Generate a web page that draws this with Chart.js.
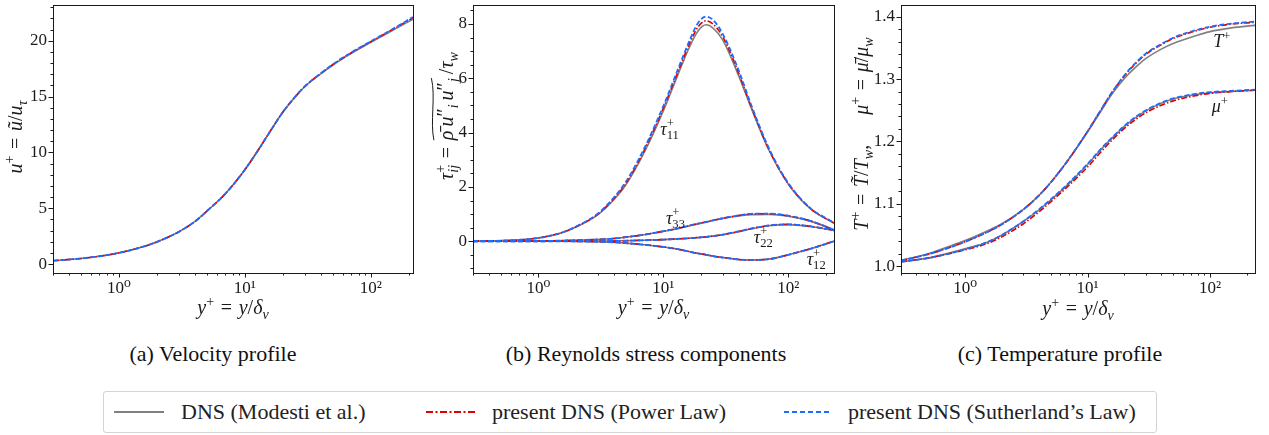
<!DOCTYPE html>
<html>
<head>
<meta charset="utf-8">
<script src="https://cdn.jsdelivr.net/npm/chart.js@4.4.1/dist/chart.umd.min.js"></script>
<style>
  body { margin: 0; background: #fff; width: 1269px; height: 435px; position: relative; overflow: hidden; font-family: "Liberation Serif", "Times New Roman", "DejaVu Serif", serif; }
  .pane { position: absolute; top: 0; }
  .cap { position: absolute; top: 341px; font-size: 22px; color: #111; transform: translateX(-50%); white-space: nowrap; }
  #legend { position: absolute; left: 103px; top: 391px; width: 1052px; height: 40px; border: 1px solid #d4d4d4; border-radius: 3px; }
  .lab { position: absolute; top: 0; height: 40px; line-height: 40px; font-size: 22px; color: #222; white-space: nowrap; }
  #legend svg { position: absolute; top: 18px; }
</style>
</head>
<body>
<canvas id="velo" class="pane" style="left:0px" width="420" height="320"></canvas>
<canvas id="stress" class="pane" style="left:420px" width="420" height="320"></canvas>
<canvas id="temp" class="pane" style="left:840px" width="429" height="320"></canvas>

<div class="cap" style="left:213px">(a) Velocity profile</div>
<div class="cap" style="left:646px">(b) Reynolds stress components</div>
<div class="cap" style="left:1060px">(c) Temperature profile</div>

<div id="legend">
  <svg style="left:10px" width="50" height="4"><line x1="0" y1="2" x2="50" y2="2" stroke="#808080" stroke-width="2"/></svg>
  <div class="lab" style="left:77px">DNS (Modesti et al.)</div>
  <svg style="left:322px" width="50" height="4"><line x1="0" y1="2" x2="50" y2="2" stroke="#e00000" stroke-width="2" stroke-dasharray="7 2.5 2 2.5"/></svg>
  <div class="lab" style="left:388px">present DNS (Power Law)</div>
  <svg style="left:680px" width="48" height="4"><line x1="0" y1="2" x2="48" y2="2" stroke="#1f6bff" stroke-width="2" stroke-dasharray="5 3"/></svg>
  <div class="lab" style="left:744px">present DNS (Sutherland’s Law)</div>
</div>

<script>
const FONT = '"Liberation Serif", "Times New Roman", "DejaVu Serif", serif';

// (a) velocity profile
const yPlusA = [0.3, 0.5, 0.7, 1, 1.5, 2, 3, 4, 5, 7, 10, 13, 16, 20, 25, 30, 40, 50, 70, 100, 150, 216];
const uDns  = [0.3, 0.5, 0.7, 1.0, 1.5, 1.98, 2.9, 3.8, 4.75, 6.3, 8.45, 10.35, 11.95, 13.6, 14.95, 15.9, 17.03, 17.83, 18.87, 19.86, 20.95, 21.92];
const uPow  = [0.3, 0.5, 0.7, 1.0, 1.5, 1.98, 2.9, 3.8, 4.75, 6.3, 8.45, 10.35, 11.95, 13.6, 14.96, 15.92, 17.06, 17.87, 18.92, 19.92, 21.03, 22.06];
const uSuth = [0.3, 0.5, 0.7, 1.0, 1.5, 1.98, 2.9, 3.8, 4.75, 6.3, 8.45, 10.35, 11.95, 13.6, 14.97, 15.93, 17.08, 17.9, 18.95, 19.95, 21.07, 22.12];
const yTicksA = [0, 5, 10, 15, 20];

// (b) Reynolds stresses
const yPlusB = [0.3, 0.5, 0.7, 1, 1.5, 2, 3, 4, 5, 7, 10, 13, 16, 19, 22, 25, 30, 40, 50, 70, 100, 150, 232];
const t11Dns  = [0, 0.02, 0.05, 0.12, 0.29, 0.52, 0.98, 1.52, 2.07, 3.25, 4.8, 6.1, 7.1, 7.75, 7.97, 7.85, 7.4, 6.1, 4.95, 3.35, 2.1, 1.2, 0.66];
const t11Pow  = [0, 0.02, 0.05, 0.12, 0.3, 0.53, 1.0, 1.56, 2.12, 3.33, 4.9, 6.2, 7.22, 7.9, 8.12, 8.0, 7.52, 6.2, 5.0, 3.38, 2.12, 1.21, 0.67];
const t11Suth = [0, 0.02, 0.05, 0.12, 0.3, 0.54, 1.02, 1.6, 2.18, 3.4, 4.98, 6.3, 7.33, 8.05, 8.27, 8.15, 7.62, 6.3, 5.07, 3.42, 2.14, 1.22, 0.68];
const t33Dns  = [0, 0.003, 0.006, 0.01, 0.02, 0.035, 0.065, 0.1, 0.15, 0.24, 0.36, 0.46, 0.56, 0.64, 0.7, 0.76, 0.84, 0.93, 0.98, 0.99, 0.92, 0.74, 0.42];
const t33Pow  = [0, 0.003, 0.006, 0.01, 0.02, 0.036, 0.067, 0.1, 0.15, 0.24, 0.37, 0.47, 0.57, 0.65, 0.71, 0.77, 0.85, 0.95, 1.0, 1.01, 0.93, 0.75, 0.42];
const t33Suth = [0, 0.003, 0.006, 0.01, 0.02, 0.036, 0.067, 0.1, 0.15, 0.24, 0.37, 0.47, 0.57, 0.65, 0.71, 0.77, 0.85, 0.95, 1.01, 1.02, 0.94, 0.75, 0.42];
const t22Dns  = [0, 0, 0, 0, 0.001, 0.002, 0.005, 0.01, 0.02, 0.035, 0.06, 0.085, 0.11, 0.135, 0.16, 0.19, 0.24, 0.35, 0.45, 0.57, 0.61, 0.54, 0.4];
const t22Pow  = [0, 0, 0, 0, 0.001, 0.002, 0.005, 0.01, 0.02, 0.035, 0.06, 0.085, 0.11, 0.135, 0.16, 0.19, 0.245, 0.36, 0.46, 0.58, 0.62, 0.55, 0.4];
const t22Suth = [0, 0, 0, 0, 0.001, 0.002, 0.005, 0.01, 0.02, 0.035, 0.06, 0.085, 0.11, 0.135, 0.16, 0.19, 0.245, 0.36, 0.46, 0.58, 0.62, 0.55, 0.4];
const t12Dns  = [0, 0, 0, 0, -0.002, -0.005, -0.02, -0.04, -0.07, -0.13, -0.21, -0.29, -0.38, -0.45, -0.5, -0.55, -0.6, -0.67, -0.69, -0.66, -0.5, -0.28, 0.0];
const t12Pow  = [0, 0, 0, 0, -0.002, -0.005, -0.02, -0.04, -0.07, -0.13, -0.21, -0.29, -0.38, -0.45, -0.5, -0.55, -0.6, -0.67, -0.69, -0.66, -0.5, -0.28, 0.0];
const t12Suth = [0, 0, 0, 0, -0.002, -0.005, -0.02, -0.04, -0.07, -0.13, -0.21, -0.29, -0.38, -0.45, -0.5, -0.55, -0.6, -0.67, -0.69, -0.66, -0.5, -0.28, 0.0];
const yTicksB = [0, 2, 4, 6, 8];

// (c) temperature and viscosity
const yPlusC = [0.3, 0.5, 0.7, 1, 1.5, 2, 3, 4, 5, 7, 10, 13, 16, 20, 25, 30, 40, 50, 70, 100, 150, 233];
const tempDns  = [1.009, 1.02, 1.03, 1.041, 1.056, 1.068, 1.091, 1.113, 1.134, 1.171, 1.215, 1.25, 1.277, 1.301, 1.32, 1.333, 1.348, 1.357, 1.367, 1.376, 1.382, 1.386];
const tempPow  = [1.009, 1.019, 1.028, 1.039, 1.054, 1.067, 1.091, 1.113, 1.134, 1.171, 1.216, 1.252, 1.28, 1.305, 1.326, 1.34, 1.355, 1.365, 1.375, 1.383, 1.388, 1.391];
const tempSuth = [1.009, 1.019, 1.028, 1.039, 1.054, 1.067, 1.091, 1.113, 1.134, 1.171, 1.216, 1.252, 1.28, 1.306, 1.327, 1.341, 1.356, 1.366, 1.376, 1.384, 1.389, 1.392];
const muDns  = [1.007, 1.013, 1.02, 1.028, 1.038, 1.05, 1.072, 1.09, 1.106, 1.132, 1.163, 1.188, 1.206, 1.224, 1.239, 1.249, 1.261, 1.268, 1.274, 1.278, 1.28, 1.282];
const muPow  = [1.007, 1.013, 1.019, 1.026, 1.036, 1.047, 1.068, 1.087, 1.103, 1.129, 1.159, 1.184, 1.203, 1.221, 1.236, 1.246, 1.258, 1.265, 1.272, 1.277, 1.28, 1.282];
const muSuth = [1.007, 1.013, 1.019, 1.027, 1.038, 1.05, 1.072, 1.091, 1.107, 1.133, 1.164, 1.189, 1.207, 1.225, 1.24, 1.25, 1.262, 1.269, 1.275, 1.279, 1.281, 1.283];
const yTicksC = [1.0, 1.1, 1.2, 1.3, 1.4];

const xTicks = [1, 10, 100];
const xTickText = {1: '10⁰', 10: '10¹', 100: '10²'};

function pts(xs, ys) {
  return xs.map((x, i) => ({x: x, y: ys[i]}));
}

function line(xs, ys, kind) {
  const st = {
    dns:  {borderColor: '#808080', borderWidth: 1.6, borderDash: [], order: 3},
    pow:  {borderColor: '#e00000', borderWidth: 1.6, borderDash: [6, 2, 1.5, 2], order: 2},
    suth: {borderColor: '#1f6bff', borderWidth: 1.8, borderDash: [5, 2.5], order: 1}
  }[kind];
  return Object.assign({data: pts(xs, ys), pointRadius: 0, fill: false, cubicInterpolationMode: 'monotone'}, st);
}

// small math strings: [text, style, flags]; style i/r + sup/sub/pr; flag b = stack on previous, w = under wide tilde
function rich(ctx, segs, x, y, size, vertical) {
  const parts = [];
  let cur = 0, prev = 0;
  segs.forEach(s => {
    const t = s[0], st = s[1], fl = s[2] || '';
    const small = st.indexOf('sub') >= 0 || st.indexOf('sup') >= 0;
    const sz = small ? size * 0.7 : size;
    const font = (st[0] === 'i' ? 'italic ' : '') + sz + 'px ' + FONT;
    ctx.font = font;
    const w = ctx.measureText(t).width;
    const start = fl.indexOf('b') >= 0 ? prev : cur;
    let dy = 0;
    if (st.indexOf('sup') >= 0) dy = -size * 0.42;
    else if (st.indexOf('sub') >= 0) dy = size * 0.24;
    else if (st === 'pr') dy = -size * 0.1;
    parts.push({t: t, font: font, start: start, w: w, dy: dy, wide: fl.indexOf('w') >= 0});
    prev = start;
    cur = Math.max(cur, start + w);
  });
  ctx.save();
  ctx.translate(x, y);
  if (vertical) ctx.rotate(-Math.PI / 2);
  ctx.fillStyle = '#1a1a1a';
  ctx.textAlign = 'left';
  ctx.textBaseline = 'alphabetic';
  const x0 = -cur / 2, base = size * 0.32;
  let w1 = Infinity, w2 = -Infinity;
  parts.forEach(p => {
    ctx.font = p.font;
    ctx.fillText(p.t, x0 + p.start, base + p.dy);
    if (p.wide) { w1 = Math.min(w1, x0 + p.start); w2 = Math.max(w2, x0 + p.start + p.w); }
  });
  if (w2 > w1) {
    const yt = base - size * 1.05;
    ctx.strokeStyle = '#1a1a1a';
    ctx.lineWidth = 1;
    ctx.beginPath();
    ctx.moveTo(w1, yt + 1.5);
    ctx.bezierCurveTo(w1 + (w2 - w1) * 0.3, yt - 2.5, w1 + (w2 - w1) * 0.7, yt + 3.5, w2, yt - 1);
    ctx.stroke();
  }
  ctx.restore();
}

const axesDeco = {
  id: 'axesDeco',
  afterDraw(chart, args, o) {
    const ctx = chart.ctx, a = chart.chartArea, x = chart.scales.x, y = chart.scales.y;
    ctx.save();
    ctx.strokeStyle = '#1a1a1a';
    ctx.lineWidth = 1;
    ctx.beginPath();
    for (let e = -1; e <= 2; e++) {
      for (let k = 1; k <= 9; k++) {
        const v = k * Math.pow(10, e);
        if (v < x.min || v > x.max) continue;
        const px = Math.round(x.getPixelForValue(v)) + 0.5;
        ctx.moveTo(px, a.bottom);
        ctx.lineTo(px, a.bottom + (k === 1 ? 4.5 : 2.5));
      }
    }
    const i0 = Math.ceil(y.min / o.minor - 1e-9), i1 = Math.floor(y.max / o.minor + 1e-9);
    for (let i = i0; i <= i1; i++) {
      const v = i * o.minor;
      const major = o.major.some(m => Math.abs(m - v) < 1e-9);
      const py = Math.round(y.getPixelForValue(v)) + 0.5;
      ctx.moveTo(a.left, py);
      ctx.lineTo(a.left - (major ? 4.5 : 2.5), py);
    }
    ctx.stroke();
    ctx.strokeRect(Math.round(a.left) + 0.5, Math.round(a.top) + 0.5, Math.round(a.right - a.left), Math.round(a.bottom - a.top));
    ctx.restore();

    rich(ctx, o.xTitle, (a.left + a.right) / 2, o.xTitleY, 20, false);
    rich(ctx, o.yTitle, o.yTitleX, o.yTitleY, 20, true);
    (o.notes || []).forEach(n => {
      rich(ctx, n.segs, x.getPixelForValue(n.x), y.getPixelForValue(n.y), 18, false);
    });
  }
};

function makeChart(id, cfg) {
  const tickFont = {family: FONT, size: 17};
  return new Chart(document.getElementById(id), {
    type: 'line',
    data: {datasets: cfg.datasets},
    options: {
      responsive: false,
      animation: false,
      events: [],
      layout: {padding: {left: 0, top: 5, right: cfg.padRight, bottom: 0}, autoPadding: false},
      plugins: {legend: {display: false}, tooltip: {enabled: false}, axesDeco: cfg.deco},
      scales: {
        x: {
          type: 'logarithmic', min: 0.3, max: cfg.xMax,
          grid: {display: false, drawTicks: true, tickLength: 4},
          border: {display: false},
          afterBuildTicks: s => { s.ticks = xTicks.map(v => ({value: v, major: true})); },
          afterFit: s => { s.height = 47; s.paddingLeft = 0; s.paddingRight = 0; },
          ticks: {autoSkip: false, maxRotation: 0, padding: 1, color: '#1a1a1a', font: tickFont,
                  callback: v => xTickText[v] || ''}
        },
        y: {
          type: 'linear', min: cfg.yMin, max: cfg.yMax,
          grid: {display: false, drawTicks: true, tickLength: 4},
          border: {display: false},
          afterBuildTicks: s => { s.ticks = cfg.yTicks.map(v => ({value: v})); },
          afterFit: s => { s.width = cfg.yWidth; s.paddingTop = 0; s.paddingBottom = 0; },
          ticks: {autoSkip: false, padding: 2, color: '#1a1a1a', font: tickFont, callback: cfg.yFmt}
        }
      }
    },
    plugins: [axesDeco]
  });
}

const EQ = '\u2004=\u2004';
const xTitle = [['y', 'i'], ['+', 'sup'], [EQ, 'r'], ['y', 'i'], ['/', 'r'], ['δ', 'i'], ['ν', 'isub']];

makeChart('velo', {
  datasets: [line(yPlusA, uSuth, 'suth'), line(yPlusA, uPow, 'pow'), line(yPlusA, uDns, 'dns')],
  xMax: 216, yMin: -0.8, yMax: 23.2, yTicks: yTicksA, yWidth: 53, padRight: 7,
  yFmt: v => String(v),
  deco: {
    minor: 1, major: yTicksA, xTitle: xTitle, xTitleY: 308, yTitleX: 16, yTitleY: 137,
    yTitle: [['u', 'i'], ['+', 'sup'], [EQ, 'r'], ['ũ', 'i'], ['/', 'r'], ['u', 'i'], ['τ', 'isub']]
  }
});

makeChart('stress', {
  datasets: [
    line(yPlusB, t11Suth, 'suth'), line(yPlusB, t11Pow, 'pow'), line(yPlusB, t11Dns, 'dns'),
    line(yPlusB, t33Suth, 'suth'), line(yPlusB, t33Pow, 'pow'), line(yPlusB, t33Dns, 'dns'),
    line(yPlusB, t22Suth, 'suth'), line(yPlusB, t22Pow, 'pow'), line(yPlusB, t22Dns, 'dns'),
    line(yPlusB, t12Suth, 'suth'), line(yPlusB, t12Pow, 'pow'), line(yPlusB, t12Dns, 'dns')
  ],
  xMax: 232, yMin: -1.17, yMax: 8.7, yTicks: yTicksB, yWidth: 53, padRight: 6,
  yFmt: v => String(v),
  deco: {
    minor: 0.5, major: yTicksB, xTitle: xTitle, xTitleY: 308, yTitleX: 27, yTitleY: 116,
    yTitle: [['τ', 'i'], ['+', 'sup'], ['ij', 'isub', 'b'], [EQ, 'r'], ['ρ̄', 'i', 'w'], ['\u2009u', 'i', 'w'], ['″', 'pr', 'w'],
             ['i', 'isub', 'w'], ['\u2009u', 'i', 'w'], ['″', 'pr', 'w'], ['j', 'isub', 'w'], ['\u2009/', 'r'], ['τ', 'i'], ['w', 'isub']],
    notes: [
      {x: 11.2, y: 4.13, segs: [['τ', 'i'], ['+', 'sup'], ['11', 'rsub', 'b']]},
      {x: 12.5, y: 0.85, segs: [['τ', 'i'], ['+', 'sup'], ['33', 'rsub', 'b']]},
      {x: 63, y: 0.15, segs: [['τ', 'i'], ['+', 'sup'], ['22', 'rsub', 'b']]},
      {x: 167, y: -0.66, segs: [['τ', 'i'], ['+', 'sup'], ['12', 'rsub', 'b']]}
    ]
  }
});

makeChart('temp', {
  datasets: [
    line(yPlusC, tempSuth, 'suth'), line(yPlusC, tempPow, 'pow'), line(yPlusC, tempDns, 'dns'),
    line(yPlusC, muSuth, 'suth'), line(yPlusC, muPow, 'pow'), line(yPlusC, muDns, 'dns')
  ],
  xMax: 233, yMin: 0.989, yMax: 1.4187, yTicks: yTicksC, yWidth: 61, padRight: 14,
  yFmt: v => v.toFixed(1),
  deco: {
    minor: 0.02, major: yTicksC, xTitle: xTitle, xTitleY: 309, yTitleX: 22, yTitleY: 134,
    yTitle: [['T', 'i'], ['+', 'sup'], [EQ, 'r'], ['T̃', 'i'], ['/', 'r'], ['T', 'i'], ['w', 'isub'], [',\u2003\u2002', 'r'],
             ['μ', 'i'], ['+', 'sup'], [EQ, 'r'], ['μ̄', 'i'], ['/', 'r'], ['μ', 'i'], ['w', 'isub']],
    notes: [
      {x: 125, y: 1.36, segs: [['T', 'i'], ['+', 'sup']]},
      {x: 120, y: 1.256, segs: [['μ', 'i'], ['+', 'sup']]}
    ]
  }
});
</script>
</body>
</html>
